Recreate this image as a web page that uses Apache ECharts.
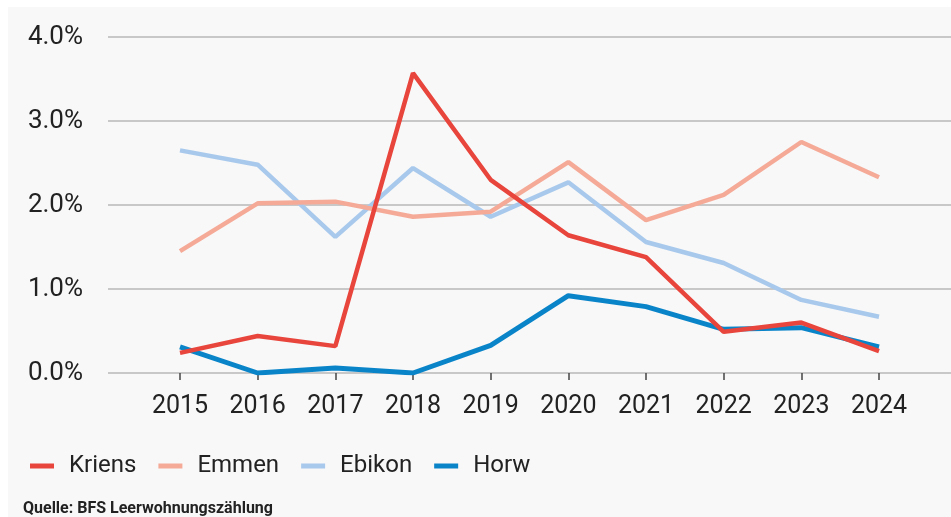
<!DOCTYPE html>
<html>
<head>
<meta charset="utf-8">
<script src="https://cdn.jsdelivr.net/npm/echarts@6/dist/echarts.min.js"></script>
<style>
  html, body { margin: 0; padding: 0; background: #ffffff; }
  #bg { position: absolute; left: 8px; top: 7px; right: 0; bottom: 0; background: #f8f8f8; }
  #chart { position: absolute; left: 0; top: 0; width: 951px; height: 517px; }
</style>
</head>
<body>
<div id="bg"></div>
<div id="chart"></div>
<script>
// Leerwohnungsziffer in % (BFS)
const years = ["2015", "2016", "2017", "2018", "2019", "2020", "2021", "2022", "2023", "2024"];
const kriens = [0.24, 0.44, 0.32, 3.57, 2.30, 1.64, 1.38, 0.49, 0.60, 0.26];
const emmen = [1.45, 2.02, 2.04, 1.86, 1.92, 2.51, 1.82, 2.12, 2.75, 2.33];
const ebikon = [2.65, 2.48, 1.62, 2.44, 1.86, 2.27, 1.56, 1.31, 0.87, 0.67];
const horw = [0.31, 0.0, 0.06, 0.0, 0.33, 0.92, 0.79, 0.52, 0.54, 0.31];
const yTicks = [0, 1, 2, 3, 4];

const font = "Roboto, 'Liberation Sans', sans-serif";

const chart = echarts.init(document.getElementById("chart"));

function line(name, data, color, width, z) {
  return {
    name: name,
    type: "line",
    xAxisIndex: 1,
    yAxisIndex: 1,
    data: data,
    symbol: "none",
    z: z,
    itemStyle: { color: color },
    lineStyle: { color: color, width: width },
    animation: false,
  };
}

chart.setOption({
  backgroundColor: "transparent",
  textStyle: { fontFamily: font },
  title: {
    text: "Quelle: BFS Leerwohnungszählung",
    left: 18,
    top: 496,
    textStyle: { fontSize: 16, fontWeight: "bold", color: "#222", fontFamily: font },
  },
  legend: {
    data: ["Kriens", "Emmen", "Ebikon", "Horw"],
    left: 25,
    top: 449,
    icon: "rect",
    itemWidth: 24,
    itemHeight: 5,
    itemGap: 22,
    textStyle: { fontSize: 24, color: "#222", padding: [0, 0, 0, 10] },
  },
  grid: [
    // only for the horizontal grid lines, which run wider than the data
    { left: 108, right: 0, top: 37, bottom: 144 },
    { left: 180, right: 72, top: 37, bottom: 144 },
  ],
  xAxis: [
    { gridIndex: 0, type: "value", show: false, min: 0, max: 1 },
    {
      gridIndex: 1,
      type: "category",
      data: years,
      boundaryGap: false,
      axisLine: { show: false },
      axisTick: { show: true, length: 7, lineStyle: { color: "#444", width: 1.5 } },
      axisLabel: { fontSize: 25, color: "#222", margin: 21, interval: 0 },
      splitLine: { show: false },
    },
  ],
  yAxis: [
    {
      gridIndex: 0,
      type: "value",
      min: yTicks[0],
      max: yTicks[yTicks.length - 1],
      interval: 1,
      axisLine: { show: false },
      axisTick: { show: false },
      axisLabel: {
        fontSize: 26,
        color: "#222",
        margin: 25,
        formatter: (v) => v.toFixed(1) + "%",
      },
      splitLine: { lineStyle: { color: "#b8b8b8", width: 1.5 } },
    },
    {
      gridIndex: 1,
      type: "value",
      min: 0,
      max: 4,
      interval: 1,
      show: false,
      splitLine: { show: false },
    },
  ],
  series: [
    line("Kriens", kriens, "#e8453c", 4.5, 5),
    line("Emmen", emmen, "#f5aa98", 4.5, 3),
    line("Ebikon", ebikon, "#a8c9ec", 4.5, 2),
    line("Horw", horw, "#0a84c9", 5, 1),
  ],
});
</script>
</body>
</html>
